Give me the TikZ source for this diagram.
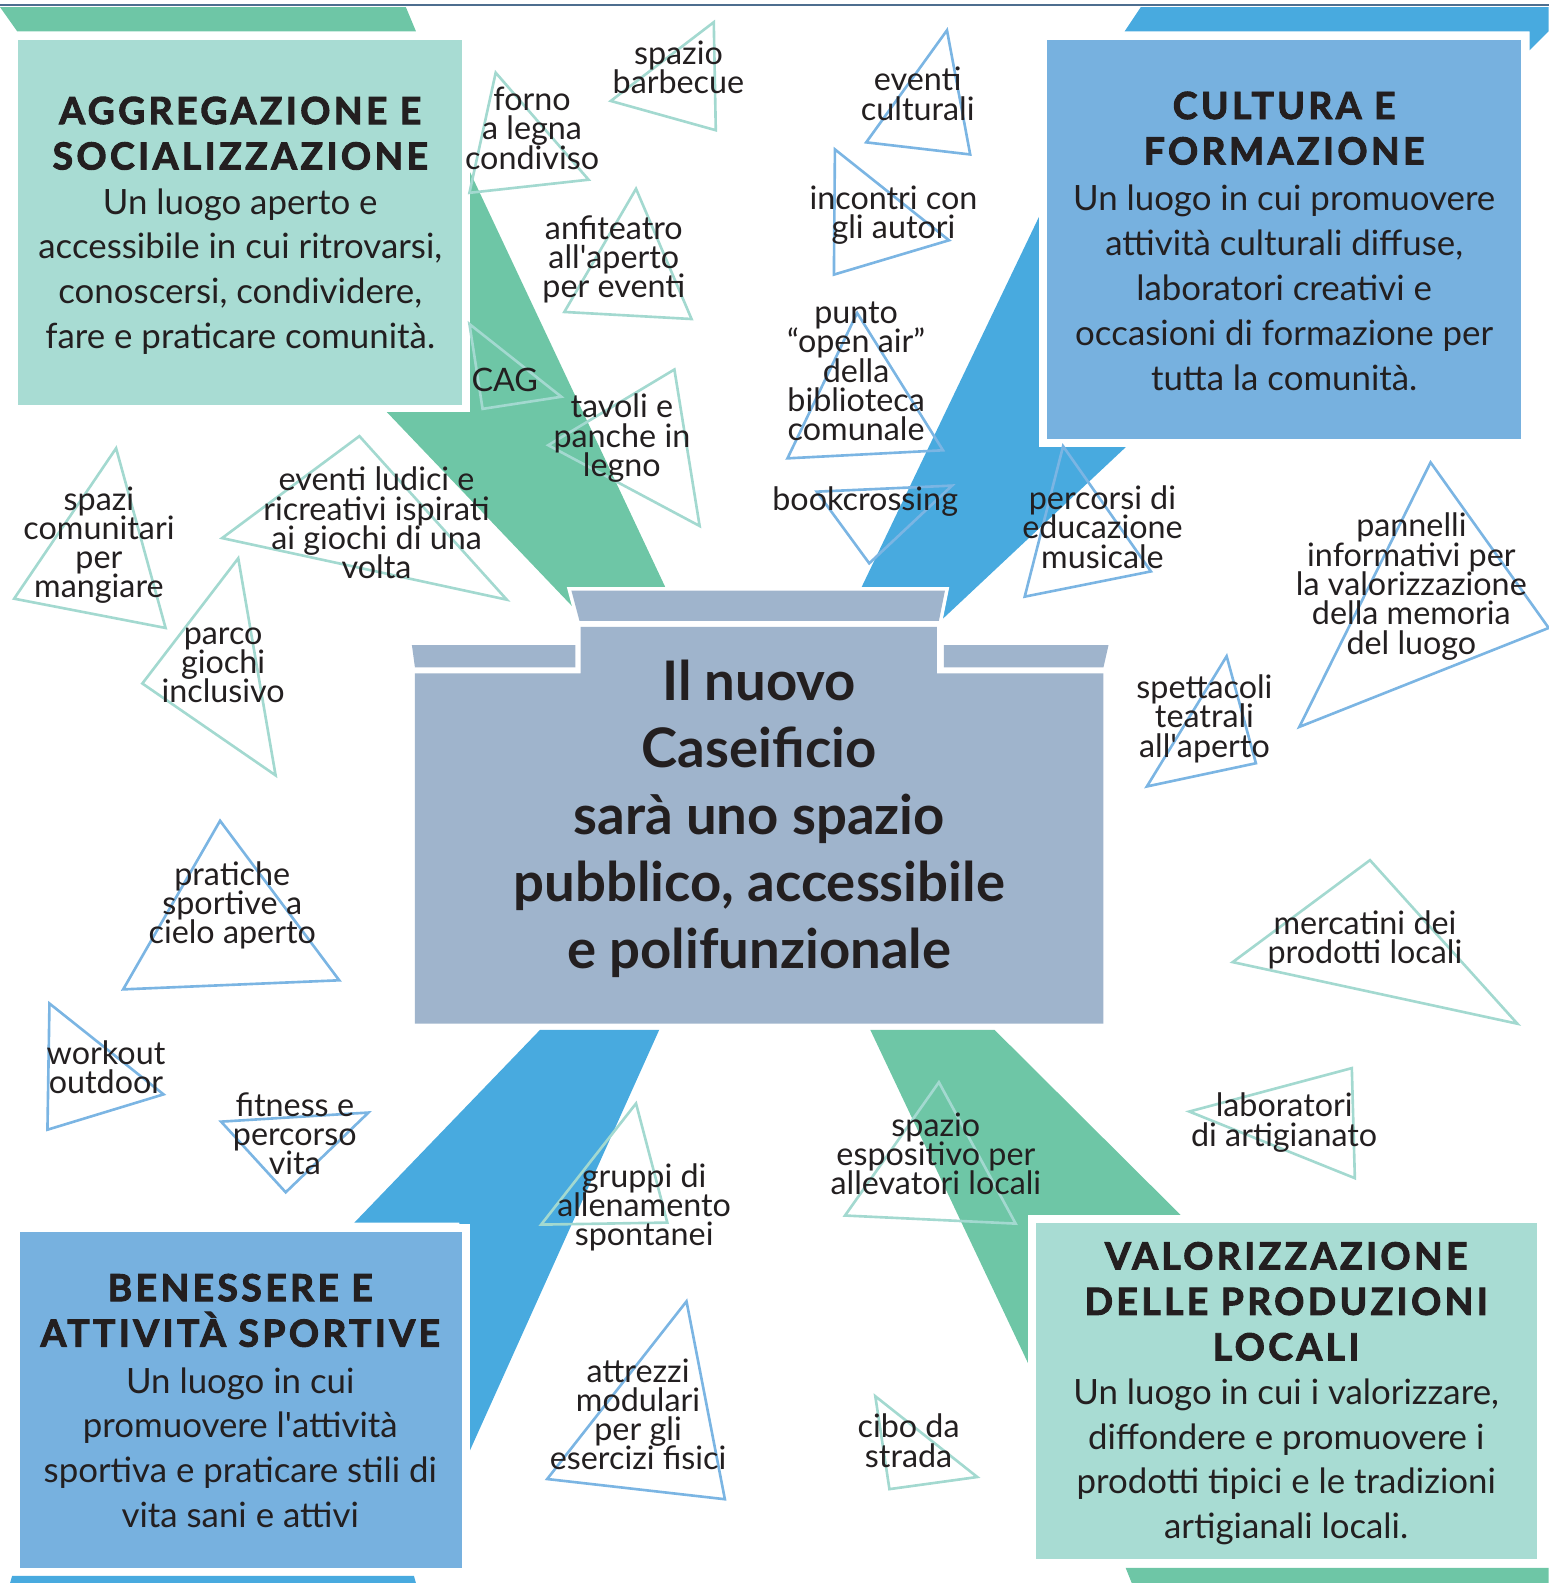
\documentclass[tikz,border=0pt]{standalone}
\usepackage{fontspec}
\setmainfont{Lato}
\usepackage{tikz}

\definecolor{tealbox}{HTML}{A8DCD3}
\definecolor{bluebox}{HTML}{77B1DF}
\definecolor{greenbolt}{HTML}{6EC6A6}
\definecolor{bluebolt}{HTML}{48AADF}
\definecolor{corebox}{HTML}{9FB4CC}
\definecolor{tealline}{HTML}{A3D9D0}
\definecolor{blueline}{HTML}{7BB5E3}
\definecolor{ink}{HTML}{231F20}
\definecolor{toprule}{HTML}{4D6E8F}

\tikzset{
  panelA/.style={ fill=tealbox, preaction={draw=white, line width=15pt} }
}
\tikzset{
  panelB/.style={ fill=bluebox, preaction={draw=white, line width=15pt} }
}
\tikzset{
  core/.style={ fill=corebox, preaction={draw=white, line width=7pt} }
}
\tikzset{
  triA/.style={ draw=tealline, line width=2.6pt }
}
\tikzset{
  triB/.style={ draw=blueline, line width=2.6pt }
}
\tikzset{
  tag/.style={ align=center, text=ink, inner sep=0pt,
    font=\fontsize{32}{29}\selectfont\lineskiplimit-100pt }
}
\tikzset{
  headline/.style={ align=center, text=ink, inner sep=0pt,
    font=\fontsize{37}{45}\selectfont\bfseries\addfontfeatures{LetterSpace=9,FakeBold=2.5}\lineskiplimit-100pt }
}
\tikzset{
  bodytext/.style={ align=center, text=ink, inner sep=0pt,
    font=\fontsize{34.5}{44.5}\selectfont\lineskiplimit-100pt }
}
\tikzset{
  coretext/.style={ align=center, text=ink, inner sep=0pt,
    font=\fontsize{54}{66.5}\selectfont\bfseries\lineskiplimit-100pt }
}

\begin{document}
\begin{tikzpicture}[x=1pt, y=-1pt]
  \useasboundingbox (0,0) rectangle (1534,1568);

  % strips and bolts
  \draw[toprule, line width=2.5pt] (0,5) -- (1534,5);
  \fill[greenbolt] (0,7) -- (402,7) -- (412,31) -- (17,31) -- cycle;
  \fill[bluebolt] (1130,7) -- (1534,7) -- (1534,31) -- (1515,50) -- (1515,31) -- (1114,31) -- cycle;
  \fill[bluebolt] (12,1561) -- (410,1561) -- (412,1568) -- (10,1568) -- cycle;
  \fill[greenbolt] (1115,1553) -- (1534,1553) -- (1534,1568) -- (1121,1568) -- cycle;

  \fill[greenbolt] (455,148) -- (662,588) -- (572,606) -- (383,408) -- (455,408) -- cycle;
  \fill[bluebolt] (1041,190) -- (847,595) -- (921,625) -- (1115,443) -- (1041,443) -- cycle;
  \fill[bluebolt] (535,1020) -- (653,1020) -- (455,1460) -- (455,1211) -- (351,1211) -- cycle;
  \fill[greenbolt] (862,1020) -- (985,1020) -- (1172,1206) -- (1030,1206) -- (1030,1375) -- cycle;

  % panels
  \fill[panelA] (18,40) rectangle (458,401);
  \fill[panelB] (1037,40) rectangle (1507,435);
  \fill[panelB] (20,1220) rectangle (458,1553);
  \fill[panelA] (1026,1211) rectangle (1522,1544);

  \node[headline] (aggT) at (238,132) {AGGREGAZIONE E\\SOCIALIZZAZIONE};
  \node[bodytext] (aggB) at (238,269) {Un luogo aperto e\\accessibile in cui ritrovarsi,\\conoscersi, condividere,\\fare e praticare comunità.};
  \node[headline] (culT) at (1272,127) {CULTURA E\\FORMAZIONE};
  \node[bodytext] (culB) at (1272,285) {Un luogo in cui promuovere\\attività culturali diffuse,\\laboratori creativi e\\occasioni di formazione per\\tutta la comunità.};
  \node[headline] (benT) at (238,1298) {BENESSERE E\\ATTIVITÀ SPORTIVE};
  \node[bodytext] (benB) at (238,1434) {Un luogo in cui\\promuovere l\textquotesingle attività\\sportiva e praticare stili di\\vita sani e attivi};
  \node[headline] (valT) at (1274,1289) {VALORIZZAZIONE\\DELLE PRODUZIONI\\LOCALI};
  \node[bodytext] (valB) at (1274,1448) {Un luogo in cui i valorizzare,\\diffondere e promuovere i\\prodotti tipici e le tradizioni\\artigianali locali.};

  % central building
  \fill[core] (566,585) -- (936,585) -- (930,615) -- (574,615) -- cycle;
  \fill[core] (408,639) -- (570,639) -- (570,661) -- (411,661) -- cycle;
  \fill[core] (935,639) -- (1098,639) -- (1093,661) -- (935,661) -- cycle;
  \fill[core] (575,621) -- (928,621) -- (928,667) -- (1093,667) -- (1093,1014)
    -- (411,1014) -- (411,667) -- (575,667) -- cycle;
  \node[coretext] (core) at (752,811) {Il nuovo\\Caseificio\\sarà uno spazio\\pubblico, accessibile\\e polifunzionale};

  % triangles
  \draw[triA] (491,72) -- (583,178) -- (465,191) -- cycle;
  \draw[triA] (707,22) -- (709,129) -- (605,100) -- cycle;
  \draw[triA] (630,187) -- (685,316) -- (559,309) -- cycle;
  \draw[triA] (465,321) -- (556,393) -- (478,405) -- cycle;
  \draw[triA] (668,366) -- (693,521) -- (543,441) -- cycle;
  \draw[triA] (356,432) -- (502,594) -- (220,533) -- cycle;
  \draw[triA] (115,444) -- (164,622) -- (14,593) -- cycle;
  \draw[triA] (236,553) -- (273,768) -- (141,677) -- cycle;
  \draw[triB] (218,813) -- (336,971) -- (122,980) -- cycle;
  \draw[triB] (49,994) -- (162,1084) -- (47,1119) -- cycle;
  \draw[triB] (219,1111) -- (365,1102) -- (283,1181) -- cycle;
  \draw[triA] (630,1093) -- (661,1211) -- (536,1213) -- cycle;
  \draw[triB] (680,1289) -- (718,1485) -- (542,1465) -- cycle;
  \draw[triA] (930,1072) -- (1006,1212) -- (837,1204) -- cycle;
  \draw[triA] (867,1383) -- (968,1463) -- (881,1475) -- cycle;
  \draw[triA] (1178,1101) -- (1339,1058) -- (1342,1167) -- cycle;
  \draw[triA] (1357,852) -- (1503,1014) -- (1221,953) -- cycle;
  \draw[triB] (1215,650) -- (1244,756) -- (1136,779) -- cycle;
  \draw[triB] (1417,458) -- (1534,622) -- (1287,720) -- cycle;
  \draw[triB] (1053,442) -- (1140,566) -- (1015,591) -- cycle;
  \draw[triB] (809,487) -- (943,481) -- (861,558) -- cycle;
  \draw[triB] (849,310) -- (934,446) -- (780,454) -- cycle;
  \draw[triB] (827,148) -- (940,238) -- (826,272) -- cycle;
  \draw[triB] (938,30) -- (961,153) -- (858,141) -- cycle;

  % labels
  \node[tag] (forno) at (527,127) {forno\\a legna\\condiviso};
  \node[tag] (barbecue) at (672,67) {spazio\\barbecue};
  \node[tag] (anfiteatro) at (608,257) {anfiteatro\\all\textquotesingle aperto\\per eventi};
  \node[tag] (cag) at (500,376) {CAG};
  \node[tag] (tavoli) at (616,434) {tavoli e\\panche in\\legno};
  \node[tag] (ludici) at (373,518) {eventi ludici e\\ricreativi ispirati\\ai giochi di una\\volta};
  \node[tag] (spazi) at (98,540) {spazi\\comunitari\\per\\mangiare};
  \node[tag] (parco) at (221,659) {parco\\giochi\\inclusivo};
  \node[tag] (pratiche) at (230,897) {pratiche\\sportive a\\cielo aperto};
  \node[tag] (workout) at (105,1057) {workout\\outdoor};
  \node[tag] (fitness) at (292,1123) {fitness e\\percorso\\vita};
  \node[tag] (gruppi) at (638,1196) {gruppi di\\allenamento\\spontanei};
  \node[tag] (attrezzi) at (632,1401) {attrezzi\\modulari\\per gli\\esercizi fisici};
  \node[tag] (espositivo) at (927,1143) {spazio\\espositivo per\\allevatori locali};
  \node[tag] (cibo) at (900,1427) {cibo da\\strada};
  \node[tag] (laboratori) at (1272,1112) {laboratori\\di artigianato};
  \node[tag] (mercatini) at (1352,931) {mercatini dei\\prodotti locali};
  \node[tag] (spettacoli) at (1193,712) {spettacoli\\teatrali\\all\textquotesingle aperto};
  \node[tag] (pannelli) at (1398,581) {pannelli\\informativi per\\la valorizzazione\\della memoria\\del luogo};
  \node[tag] (percorsi) at (1092,522) {percorsi di\\educazione\\musicale};
  \node[tag] (bookcrossing) at (857,497) {bookcrossing};
  \node[tag] (punto) at (848,368) {punto\\“open air”\\della\\biblioteca\\comunale};
  \node[tag] (incontri) at (885,213) {incontri con\\gli autori};
  \node[tag] (culturali) at (909,93) {eventi\\culturali};
\end{tikzpicture}
\end{document}
